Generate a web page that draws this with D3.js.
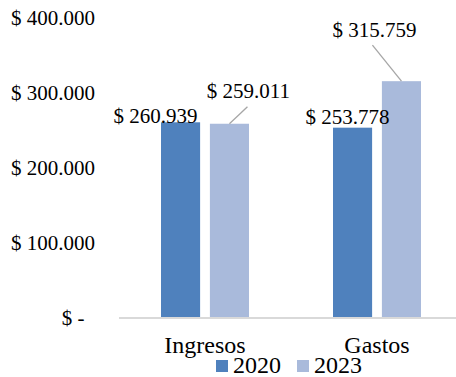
<!DOCTYPE html>
<html><head><meta charset="utf-8">
<script src="https://cdn.jsdelivr.net/npm/d3@7"></script>
<style>body{margin:0;background:#fff}svg{display:block}</style>
</head><body>
<script>
const categories = ["Ingresos", "Gastos"];
const seriesNames = ["2020", "2023"];
const values2020 = [260939, 253778];
const values2023 = [259011, 315759];
const yTicks = [0, 100000, 200000, 300000, 400000];
const yTickLabels = ["$ -\u00a0\u00a0", "$ 100.000", "$ 200.000", "$ 300.000", "$ 400.000"];
const dataLabels2020 = ["$ 260.939", "$ 253.778"];
const dataLabels2023 = ["$ 259.011", "$ 315.759"];
const colors = ["#4f81bd", "#a9badb"];
const FONT = "'Liberation Serif', 'DejaVu Serif', 'Times New Roman', Times, serif";

const W = 456, H = 377;
const svg = d3.select("body").append("svg").attr("width", W).attr("height", H)
  .attr("font-family", FONT);

const y = d3.scaleLinear().domain([0, 400000]).range([318, 18]);
const x0 = d3.scaleBand().domain(categories).range([119, 463]).paddingInner(0).paddingOuter(0);
const x1 = d3.scaleBand().domain(seriesNames).range([42, 130]).paddingInner(0.2);

// y tick labels
svg.append("g").selectAll("text").data(yTicks).join("text")
  .attr("x", 95).attr("y", d => y(d)).attr("dy", "0.33em")
  .attr("text-anchor", "end").attr("font-size", 21).attr("font-family", FONT)
  .text((d, i) => yTickLabels[i]);

// axis line
svg.append("line").attr("x1", 119).attr("x2", 456).attr("y1", y(0)).attr("y2", y(0))
  .attr("stroke", "#d9d9d9").attr("stroke-width", 2);

const series = [values2020, values2023];
series.forEach((vals, si) => {
  svg.append("g").selectAll("rect").data(vals).join("rect")
    .attr("x", (d, i) => x0(categories[i]) + x1(seriesNames[si]))
    .attr("width", x1.bandwidth())
    .attr("y", d => y(d))
    .attr("height", d => y(0) - y(d) - 1)
    .attr("fill", colors[si]);
});

// data labels 2020
const off2020 = [{dx: -25, dy: 1}, {dx: -5, dy: -4}];
svg.append("g").selectAll("text").data(values2020).join("text")
  .attr("x", (d, i) => x0(categories[i]) + x1("2020") + x1.bandwidth() / 2 + off2020[i].dx)
  .attr("y", (d, i) => y(d) + off2020[i].dy)
  .attr("text-anchor", "middle").attr("font-size", 21).attr("font-family", FONT)
  .text((d, i) => dataLabels2020[i]);

// data labels 2023 with leader lines
const lblOff = [{dx: 19, dy: -26, lx: 18, ly: -17}, {dx: -27, dy: -44, lx: -29, ly: -36}];
values2023.forEach((d, i) => {
  const cx = x0(categories[i]) + x1("2023") + x1.bandwidth() / 2;
  const top = y(d);
  svg.append("line")
    .attr("x1", cx).attr("y1", top)
    .attr("x2", cx + lblOff[i].lx).attr("y2", top + lblOff[i].ly)
    .attr("stroke", "#a6a6a6").attr("stroke-width", 1.3);
  svg.append("text")
    .attr("x", cx + lblOff[i].dx).attr("y", top + lblOff[i].dy)
    .attr("text-anchor", "middle").attr("font-size", 21).attr("font-family", FONT)
    .text(dataLabels2023[i]);
});

// category labels
svg.append("g").selectAll("text").data(categories).join("text")
  .attr("x", d => x0(d) + x0.bandwidth() / 2).attr("y", 353)
  .attr("text-anchor", "middle").attr("font-size", 24).attr("font-family", FONT)
  .text(d => d);

// legend
const legX = [216, 297];
seriesNames.forEach((s, i) => {
  svg.append("rect").attr("x", legX[i]).attr("y", 360).attr("width", 12).attr("height", 12).attr("fill", colors[i]);
  svg.append("text").attr("x", legX[i] + 17).attr("y", 373)
    .attr("font-size", 24).attr("font-family", FONT).text(s);
});
</script>
</body></html>
